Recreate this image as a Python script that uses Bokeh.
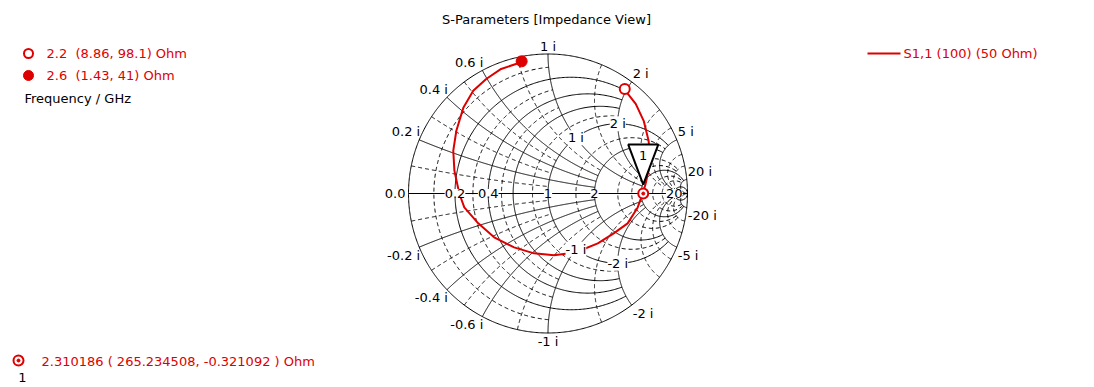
import numpy as np
from bokeh.plotting import figure
from bokeh.models import Range1d, ColumnDataSource, LabelSet
from bokeh.core.properties import value
from bokeh.embed import file_html
from bokeh.resources import INLINE

# ---------------- data ----------------
title = "S-Parameters [Impedance View]"
z0 = 50.0
trace_name = "S1,1 (100) (50 Ohm)"

# S1,1 trace (reflection coefficient), 2.2 GHz -> 2.6 GHz
trace_re = [0.550, 0.629, 0.686, 0.721, 0.729, 0.721, 0.700, 0.679, 0.643, 0.571,
            0.471, 0.357, 0.236, 0.140, 0.043, -0.100, -0.243, -0.386, -0.500, -0.600,
            -0.636, -0.671, -0.679, -0.657, -0.607, -0.536, -0.443, -0.336, -0.186]
trace_im = [0.743, 0.643, 0.521, 0.379, 0.286, 0.164, 0.071, 0.000, -0.100, -0.214,
            -0.286, -0.357, -0.407, -0.430, -0.443, -0.429, -0.386, -0.314, -0.214, -0.100,
            0.000, 0.164, 0.307, 0.450, 0.614, 0.736, 0.821, 0.893, 0.943]

# frequency markers (GHz, Ohm)
mk_freq = [2.2, 2.6]
mk_R = [8.86, 1.43]
mk_X = [98.1, 41.0]
mk_text = ["2.2\u00a0 (8.86, 98.1) Ohm", "2.6\u00a0 (1.43, 41) Ohm"]

# curve marker 1
m1_freq = 2.310186
m1_R = 265.234508
m1_X = -0.321092
m1_text = "2.310186 ( 265.234508, -0.321092 ) Ohm"

# grid values
grid_major = [0.2, 0.4, 0.6, 1, 2, 5, 20]
grid_minor = [0.1, 0.3, 0.5, 0.8, 1.5, 3, 4, 7, 10]
real_lbl_vals = [0.2, 0.4, 1, 2, 20]
real_lbl_txt = ["0.2", "0.4", "1", "2", "20"]
reac_lbl_vals = [0.2, 0.4, 0.6, 1, 2, 5, 20]
reac_lbl_txt = ["0.2 i", "0.4 i", "0.6 i", "1 i", "2 i", "5 i", "20 i"]
inner_lbl_vals = [1, 2]
inner_lbl_txt = ["1 i", "2 i"]

# ---------------- layout ----------------
RED = "#dc0000"
FONT = "DejaVu Sans"
FS = "13px"
W, H = 1093, 386
S = 139.5                # px per unit of reflection coefficient
CXp, CYp = 547.5, 193.0  # page position of chart centre
OX, OY = 0, 0            # page position of the figure


def X(px):
    return (px - CXp) / S


def Y(py):
    return (CYp - py) / S


def gam(z):
    z = np.asarray(z, dtype=complex)
    return (z - 1) / (z + 1)


p = figure(width=W, height=H, output_backend="svg", toolbar_location=None,
           x_range=Range1d(X(OX), X(OX + W)), y_range=Range1d(Y(OY + H), Y(OY)),
           x_axis_type=None, y_axis_type=None, min_border=0)
p.outline_line_color = None
p.background_fill_color = "white"
p.border_fill_color = "white"

# ---------------- grid ----------------
major_lim = {0.2: 2, 0.4: 2, 0.6: 2, 1: 5, 2: 5, 5: 20, 20: np.inf}
minor_lim = {0.1: 1, 0.3: 1, 0.5: 1, 0.8: 2, 1.5: 5, 3: 10, 4: 10, 7: 20, 10: 20}


def r_curve(r, xlim):
    t = np.linspace(-np.arctan(xlim), np.arctan(xlim), 400)
    g = gam(r + 1j * np.tan(t))
    return list(g.real), list(g.imag)


def x_curve(x, rlim):
    u = np.linspace(0, np.arctan(rlim), 400)
    g = gam(np.tan(u) + 1j * x)
    return list(g.real), list(g.imag)


def grid_lines(vals, lims):
    xs, ys = [], []
    for v in vals:
        a, b = r_curve(v, lims[v])
        xs.append(a); ys.append(b)
        for s in (1, -1):
            a, b = x_curve(s * v, lims[v])
            xs.append(a); ys.append(b)
    return xs, ys


mxs, mys = grid_lines(grid_minor, minor_lim)
p.multi_line(mxs, mys, line_color="black", line_width=1, line_dash="4 3")
Mxs, Mys = grid_lines(grid_major, major_lim)
p.multi_line(Mxs, Mys, line_color="black", line_width=1)

# outer circle and real axis
th = np.linspace(0, 2 * np.pi, 721)
p.line(np.cos(th), np.sin(th), line_color="black", line_width=1)
p.line([-1, 1], [0, 0], line_color="black", line_width=1)


def labels(xs, ys, texts, align, color="black", bg=None):
    src = ColumnDataSource(dict(x=xs, y=ys, t=texts))
    kw = dict(x="x", y="y", text="t", source=src, text_align=align,
              text_baseline="middle", text_font=value(FONT),
              text_font_size=value(FS), text_color=color)
    if bg:
        kw["background_fill_color"] = bg
    p.add_layout(LabelSet(**kw))


# real-axis labels
g_r = gam(np.array(real_lbl_vals, dtype=float))
labels(list(g_r.real), [0.0] * len(real_lbl_vals), real_lbl_txt, "center", bg="white")
labels([-1 - 3 / S], [0.0], ["0.0"], "right")

# outer reactance labels
for sgn in (1, -1):
    for v, t in zip(reac_lbl_vals, reac_lbl_txt):
        g = gam(1j * v * sgn)
        if v < 1:
            al, dx = "right", 1
        elif v == 1:
            al, dx = "center", 0
        else:
            al, dx = "left", 1
        txt = t if sgn > 0 else "-" + t
        labels([g.real + dx / S], [g.imag + sgn * 8 / S], [txt], al)

# inner reactance labels on r = 1
for sgn in (1, -1):
    g = gam(1 + 1j * sgn * np.array(inner_lbl_vals, dtype=float))
    txt = inner_lbl_txt if sgn > 0 else ["-" + t for t in inner_lbl_txt]
    labels(list(g.real), list(g.imag), txt, "center", bg="white")

# ---------------- trace ----------------
p.line(trace_re, trace_im, line_color=RED, line_width=2)

gm = gam((np.array(mk_R) + 1j * np.array(mk_X)) / z0)
p.scatter([gm[0].real], [gm[0].imag], size=10, marker="circle",
          fill_color="white", line_color=RED, line_width=2)
p.scatter([gm[1].real], [gm[1].imag], size=11, marker="circle",
          fill_color=RED, line_color=RED, line_width=1)

g1 = gam((m1_R + 1j * m1_X) / z0)
mx, my = float(g1.real), float(g1.imag)
p.patch([mx - 15 / S, mx + 15 / S, mx], [my + 49 / S, my + 49 / S, my + 9 / S],
        fill_color="white", line_color="black", line_width=2)
labels([mx], [my + 38 / S], ["1"], "center")
p.scatter([mx], [my], size=10, marker="circle", fill_color="white",
          line_color=RED, line_width=2)
p.scatter([mx], [my], size=3, marker="circle", fill_color=RED, line_color=RED)

# ---------------- titles / legends ----------------
labels([X(546)], [Y(19)], [title], "center")

p.scatter([X(28)], [Y(53)], size=9, marker="circle", fill_color="white",
          line_color=RED, line_width=2)
p.scatter([X(28)], [Y(75)], size=10, marker="circle", fill_color=RED, line_color=RED)
labels([X(46), X(46)], [Y(53), Y(75)], mk_text, "left", color=RED)
labels([X(24)], [Y(98)], ["Frequency / GHz"], "left")

p.line([X(867), X(900)], [Y(53), Y(53)], line_color=RED, line_width=2)
labels([X(903)], [Y(53)], [trace_name], "left", color=RED)

p.scatter([X(18)], [Y(360)], size=10, marker="circle", fill_color="white",
          line_color=RED, line_width=2)
p.scatter([X(18)], [Y(360)], size=3, marker="circle", fill_color=RED, line_color=RED)
labels([X(22)], [Y(377)], ["1"], "center")
labels([X(41)], [Y(361)], [m1_text], "left", color=RED)

open("out.html", "w").write(file_html(p, INLINE))
